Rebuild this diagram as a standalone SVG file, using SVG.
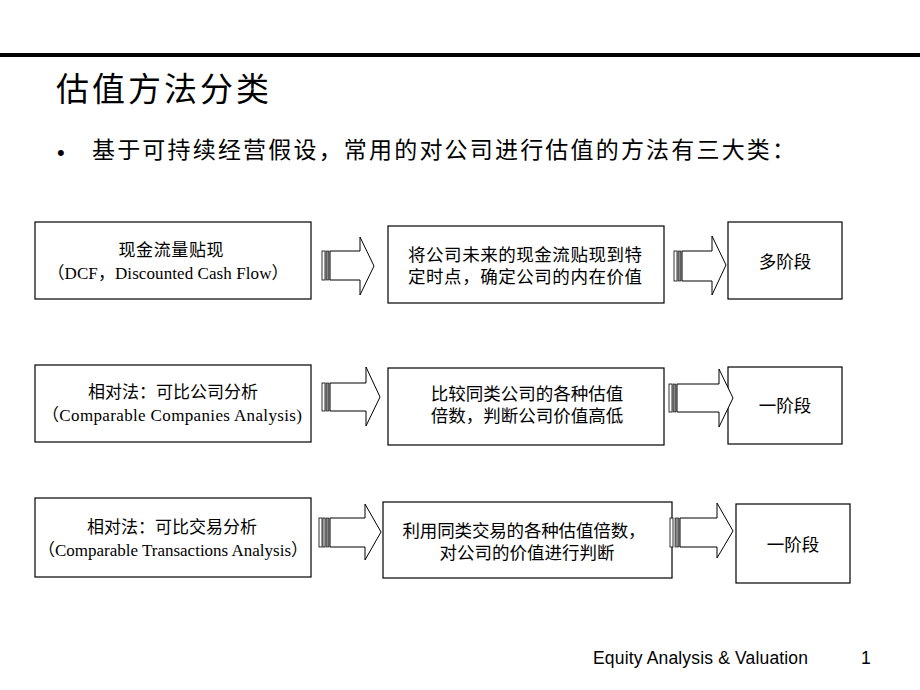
<svg xmlns="http://www.w3.org/2000/svg" width="920" height="690" viewBox="0 0 920 690">
<style>
.box{fill:#fff;stroke:#000;stroke-width:1.2}
.arr{fill:#fff;stroke:#000;stroke-width:1}
.st{fill:#fff;stroke:#000;stroke-width:0.8}
.sg{fill:#888;stroke:#000;stroke-width:0.6}
.ta{font-family:"Liberation Serif","Noto Sans CJK SC",serif;font-size:17px;fill:#000;text-anchor:middle}
.tb{font-family:"Liberation Sans","Noto Sans CJK SC",sans-serif;font-size:17.5px;fill:#000;text-anchor:middle}
</style>
<rect x="0" y="0" width="920" height="690" fill="#fff"/>
<rect x="0" y="53" width="920" height="4" fill="#000"/>
<text x="56" y="101" font-family="Liberation Sans,'Noto Sans CJK SC',sans-serif" font-size="33" textLength="213">估值方法分类</text>
<text x="57" y="160" font-family="Liberation Sans,sans-serif" font-size="22">•</text>
<text x="92" y="158" font-family="Liberation Sans,'Noto Sans CJK SC',sans-serif" font-size="23" textLength="703">基于可持续经营假设，常用的对公司进行估值的方法有三大类：</text>

<g id="n1a"><rect class="box" x="35" y="222" width="276" height="77"/>
<text class="ta" x="171" y="256" textLength="105">现金流量贴现</text>
<text class="ta" x="168" y="279" textLength="241">（DCF，Discounted Cash Flow）</text></g>
<g id="n1b"><rect class="box" x="388" y="226" width="276" height="77"/>
<text class="tb" x="525" y="261" textLength="234">将公司未来的现金流贴现到特</text>
<text class="tb" x="525" y="283" textLength="234">定时点，确定公司的内在价值</text></g>
<g id="n1c"><rect class="box" x="728" y="222" width="114" height="77"/>
<text class="tb" x="785" y="268">多阶段</text></g>

<g id="n2a"><rect class="box" x="35" y="365" width="276" height="77"/>
<text class="ta" x="173" y="398">相对法：可比公司分析</text>
<text class="ta" x="172" y="421" textLength="260">（Comparable Companies Analysis)</text></g>
<g id="n2b"><rect class="box" x="388" y="368" width="276" height="77"/>
<text class="tb" x="527" y="400">比较同类公司的各种估值</text>
<text class="tb" x="527" y="422">倍数，判断公司价值高低</text></g>
<g id="n2c"><rect class="box" x="728" y="367" width="114" height="77"/>
<text class="tb" x="785" y="412">一阶段</text></g>

<g id="n3a"><rect class="box" x="35" y="498" width="276" height="79"/>
<text class="ta" x="172" y="533">相对法：可比交易分析</text>
<text class="ta" x="173" y="556" textLength="270">（Comparable Transactions Analysis）</text></g>
<g id="n3b"><rect class="box" x="383" y="502" width="289" height="76"/>
<text class="tb" x="524" y="537" textLength="243">利用同类交易的各种估值倍数，</text>
<text class="tb" x="527" y="559">对公司的价值进行判断</text></g>
<g id="n3c"><rect class="box" x="736" y="504" width="114" height="79"/>
<text class="tb" x="793" y="551">一阶段</text></g>

<g id="connectors">
<g><rect class="st" x="322" y="251" width="3" height="29"/><rect class="sg" x="326" y="251" width="3" height="29"/>
<polygon class="arr" points="330,251 360,251 360,237 374,266 360,295 360,280 330,280"/></g>
<g><rect class="st" x="674" y="251" width="3" height="30"/><rect class="sg" x="678" y="251" width="3" height="30"/>
<polygon class="arr" points="682,251 712,251 712,236 726,265 712,295 712,281 682,281"/></g>
<g><rect class="st" x="322" y="383" width="3" height="28"/><rect class="sg" x="326" y="383" width="3" height="28"/>
<polygon class="arr" points="330,383 366,383 366,367 380,397 366,426 366,411 330,411"/></g>
<g><rect class="st" x="669" y="384" width="3" height="28"/><rect class="sg" x="673" y="384" width="3" height="28"/>
<polygon class="arr" points="677,384 719,384 719,369 733,398 719,427 719,412 677,412"/></g>
<g><rect class="st" x="319" y="518" width="3" height="29"/><rect class="st" x="323" y="518" width="2" height="29"/><rect class="sg" x="326" y="518" width="3" height="29"/>
<polygon class="arr" points="330,518 365,518 365,504 381,532 365,560 365,547 330,547"/></g>
<g><rect class="st" x="670" y="518" width="3" height="29"/><rect class="sg" x="675" y="518" width="4" height="29"/>
<polygon class="arr" points="680,518 717,518 717,503 733,531 717,558 717,547 680,547"/></g>
</g>

<text x="593" y="664" font-family="Liberation Sans,sans-serif" font-size="17.5" textLength="215">Equity Analysis &amp; Valuation</text>
<text x="861" y="664" font-family="Liberation Sans,sans-serif" font-size="17.5">1</text>
</svg>
